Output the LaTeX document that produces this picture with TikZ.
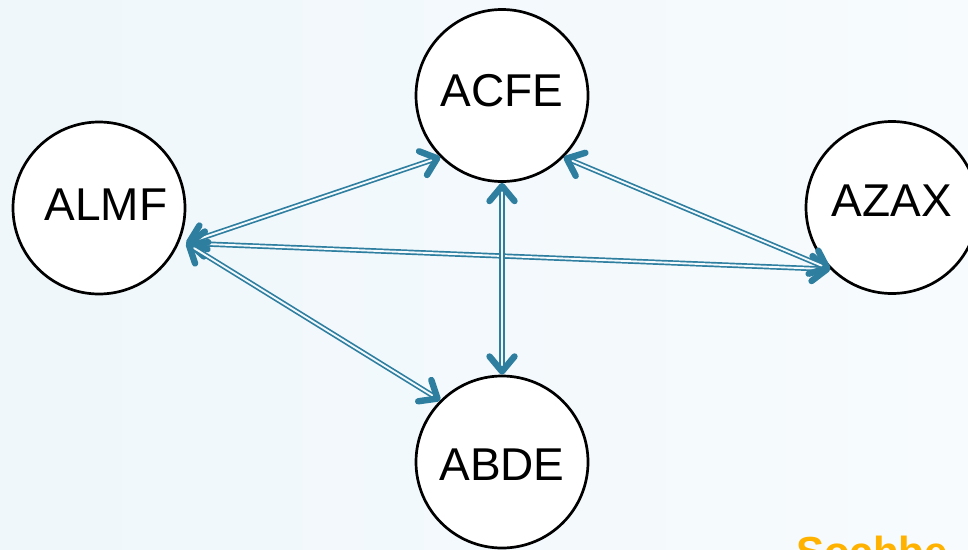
\documentclass[tikz,border=0pt]{standalone}
\usepackage{fontspec}
\setmainfont{Liberation Sans}
\usetikzlibrary{arrows.meta}
\definecolor{edgec}{RGB}{46,126,160}
\definecolor{bgL}{RGB}{239,247,251}
\definecolor{bgR}{RGB}{247,251,253}
\definecolor{bgM}{RGB}{244,249,252}
\definecolor{mark}{RGB}{255,178,0}
\tikzset{
  circ/.style={circle, draw=black, line width=2.7pt, fill=white, minimum size=172pt, inner sep=0pt,
    font=\fontsize{46}{50}\selectfont},
  dline/.style={draw=edgec, line width=1.7pt, double=bgM, double distance=1.9pt, shorten <=7pt, shorten >=7pt},
  tipline/.style={draw=edgec, line width=6.4pt, dash pattern=on 0pt off 2000pt,
    {Straight Barb[length=15pt, width=25pt, round]}-{Straight Barb[length=15pt, width=25pt, round]}}
}
\begin{document}
\begin{tikzpicture}[x=1pt, y=-1pt]
\useasboundingbox (0,0) rectangle (968,549);
\clip (0,0) rectangle (968,549);
\shade[left color=bgL, right color=bgR] (0,0) rectangle (968,549);

\node[circ, text depth=6pt, outer sep=8pt] (ALMF) at (99,208) {\hspace*{14pt}ALMF};
\node[circ, text depth=10pt] (ACFE) at (502,95.5) {ACFE};
\node[circ, text depth=14pt] (AZAX) at (892,207.5) {AZAX};
\node[circ, text height=37pt, text depth=0pt] (ABDE) at (502,462) {ABDE};

\node[anchor=base west, inner sep=0pt, text=mark, font=\bfseries\fontsize{42}{46}\selectfont] (mk) at (796,566) {Sochbe};

% ALMF links
\draw[dline] (ALMF.338) -- (ACFE.225);
\draw[tipline] (ALMF.338) -- (ACFE.225);
\draw[dline] (ALMF.338) -- (AZAX.225);
\draw[tipline] (ALMF.338) -- (AZAX.225);
\draw[dline] (ALMF.338) -- (ABDE.135);
\draw[tipline] (ALMF.338) -- (ABDE.135);
% ACFE links
\draw[dline] (ACFE.270) -- (ABDE.90);
\draw[tipline] (ACFE.270) -- (ABDE.90);
\draw[dline] (ACFE.315) -- (AZAX.225);
\draw[tipline] (ACFE.315) -- (AZAX.225);
\end{tikzpicture}
\end{document}
